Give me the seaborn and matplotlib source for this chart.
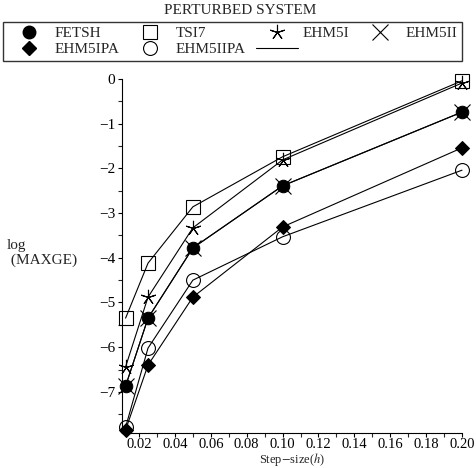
import seaborn as sns
import pandas as pd
import numpy as np
import matplotlib.pyplot as plt
from matplotlib.lines import Line2D
from matplotlib.ticker import MultipleLocator, FormatStrFormatter

# step sizes and log(MAXGE)
h = [0.0125, 0.025, 0.05, 0.1, 0.2]
fetsh = [-6.87, -5.35, -3.78, -2.39, -0.74]
tsi7 = [-5.35, -4.12, -2.86, -1.74, -0.04]
ehm5i = [-6.44, -4.88, -3.33, -1.81, -0.09]
ehm5ii = [-6.87, -5.35, -3.78, -2.39, -0.74]
ehm5ipa = [-7.85, -6.40, -4.88, -3.31, -1.54]
ehm5iipa = [-7.79, -6.02, -4.50, -3.53, -2.04]
xticks = [0.02, 0.04, 0.06, 0.08, 0.10, 0.12, 0.14, 0.16, 0.18, 0.20]
yticks = [0, -1, -2, -3, -4, -5, -6, -7]

sns.set_style("ticks")
plt.rcParams['font.family'] = ['Liberation Serif', 'DejaVu Serif']
plt.rcParams['mathtext.fontset'] = 'stix'

fig = plt.figure(figsize=(4.77, 4.68), dpi=100)
ax = fig.add_axes([122/477, 1-433/468, (462-122)/477, (433-79)/468])

# marker style per series; EHM5II drawn first so the filled circles sit on top
series = [
    ('EHM5II', ehm5ii, dict(marker='x', ms=11, mew=0.8)),
    ('TSI7', tsi7, dict(marker='s', ms=10, mfc='none', mew=0.8)),
    ('EHM5I', ehm5i, dict(marker=(5, 2, 0), ms=11, mew=0.8)),
    ('EHM5IIPA', ehm5iipa, dict(marker='o', ms=10, mfc='none', mew=0.8)),
    ('EHM5IPA', ehm5ipa, dict(marker='D', ms=7, mfc='black')),
    ('FETSH', fetsh, dict(marker='o', ms=9, mfc='black')),
]
handles = {}
for name, vals, st in series:
    df = pd.DataFrame({'h': h, 'v': vals})
    sns.lineplot(data=df, x='h', y='v', ax=ax, color='black', lw=0.8,
                 mec='black', clip_on=False, **st)
    handles[name] = Line2D([], [], color='black', ls='none', mec='black', **st)

ax.set_xlim(0.0105, 0.2)
ax.set_ylim(-7.92, 0)
ax.set_xticks(xticks)
ax.set_yticks(yticks)
ax.xaxis.set_minor_locator(MultipleLocator(0.01))
ax.yaxis.set_minor_locator(MultipleLocator(0.5))
ax.xaxis.set_major_formatter(FormatStrFormatter('%.2f'))
ax.tick_params(labelsize=11, length=3, width=0.8, colors='black', pad=2)
ax.tick_params(axis='x', labelsize=10.5, pad=0.5)
ax.tick_params(which='minor', length=3, width=0.8)
sns.despine(ax=ax)
for s in ['left', 'bottom']:
    ax.spines[s].set_linewidth(0.8)
    ax.spines[s].set_color('black')
ax.set_xlabel('')
ax.set_ylabel('')

fig.text(292/477, 1-467.5/468, r'Step$-$size($h$)', ha='center', va='bottom', fontsize=9)
fig.text(7/477, 1-253/468, 'log\n (MAXGE)', ha='left', va='center', fontsize=11, linespacing=1.1)
fig.text(240/477, 1-11/468, 'PERTURBED SYSTEM', ha='center', va='center', fontsize=11)

order = ['FETSH', 'EHM5IPA', 'TSI7', 'EHM5IIPA', 'EHM5I', None, 'EHM5II']
hs, ls = [], []
for k in order:
    if k is None:
        hs.append(Line2D([], [], color='black', lw=0.8))
        ls.append('')
    else:
        hs.append(handles[k])
        ls.append(k)
leg = fig.legend(hs, ls, ncol=4, loc='upper left', bbox_to_anchor=(3/477, 1-22/468),
                 fontsize=11, frameon=True, fancybox=False, edgecolor='black',
                 handlelength=2.8, handletextpad=0.25, columnspacing=0.65,
                 labelspacing=0.15, borderpad=0.3, borderaxespad=0)
leg.get_frame().set_linewidth(1.0)

fig.savefig('out.png', dpi=100)
